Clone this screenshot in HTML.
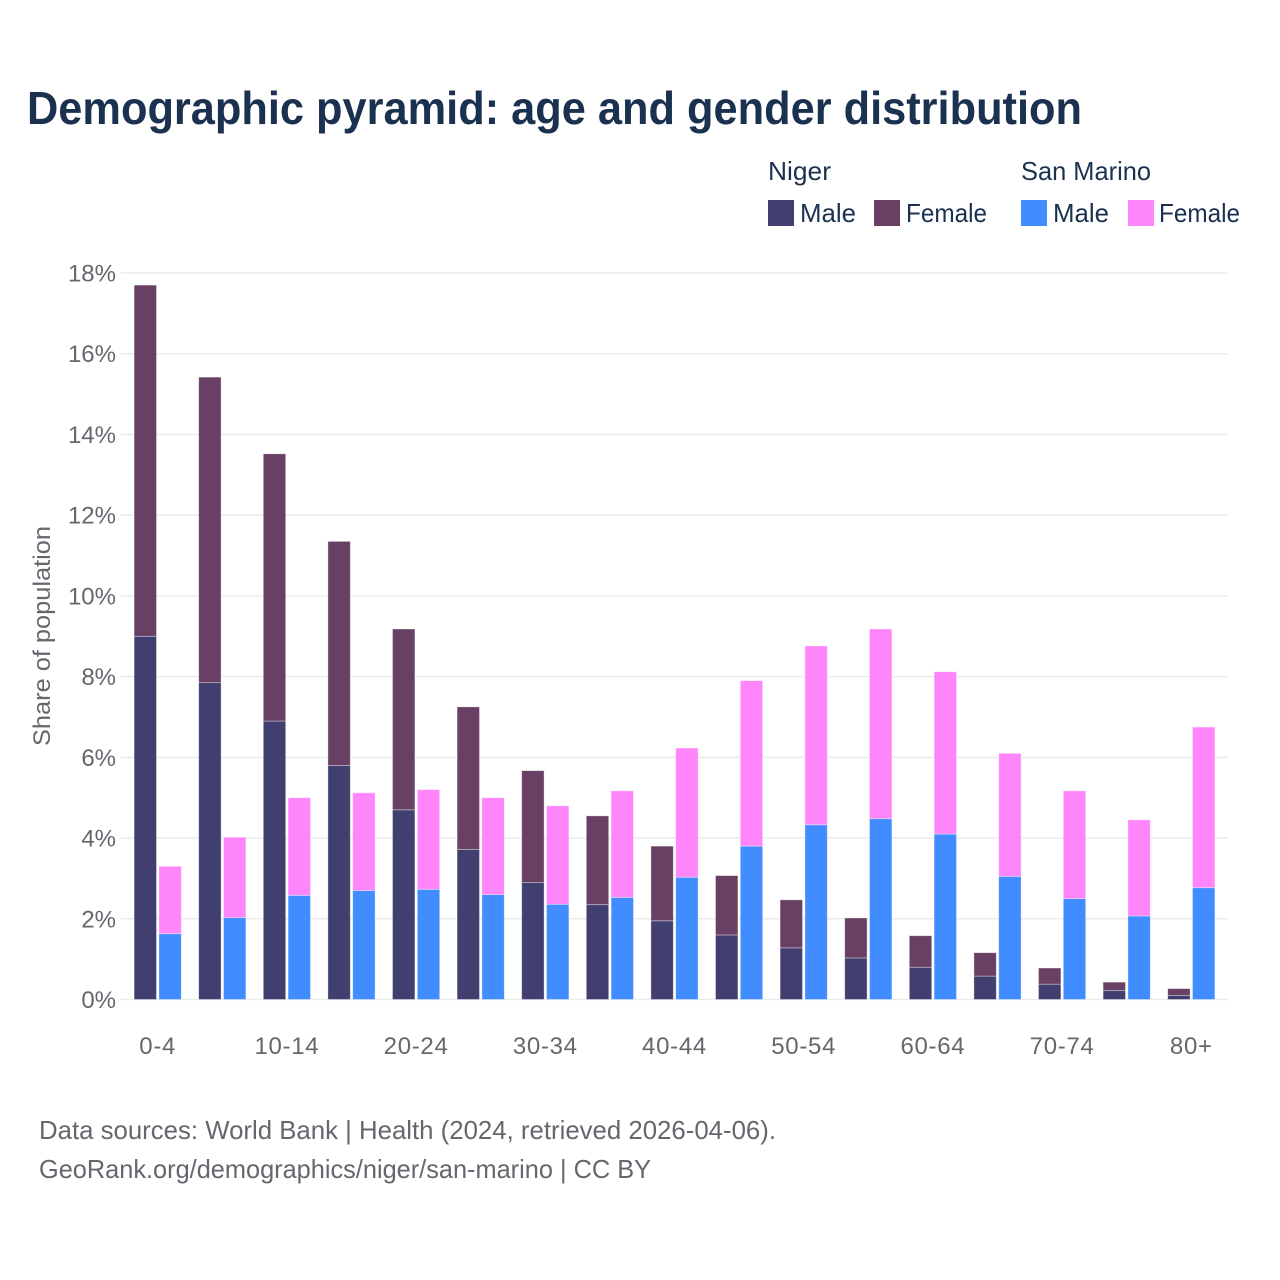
<!DOCTYPE html>
<html lang="en">
<head>
<meta charset="utf-8">
<title>Demographic pyramid: age and gender distribution</title>
<style>
html,body{margin:0;padding:0;background:#fff;}
svg{display:block;font-family:"Liberation Sans",sans-serif;}
</style>
</head>
<body>
<svg id="chart" width="1280" height="1280" viewBox="0 0 1280 1280" xmlns="http://www.w3.org/2000/svg">
  <rect width="1280" height="1280" fill="#ffffff"/>
  <text x="27" y="124" font-size="46" font-weight="700" fill="#1a3150" textLength="1055" lengthAdjust="spacingAndGlyphs">Demographic pyramid: age and gender distribution</text>

  <g font-size="26" fill="#1a3150">
    <text x="768" y="180" textLength="63" lengthAdjust="spacingAndGlyphs">Niger</text>
    <text x="1021" y="180" textLength="130" lengthAdjust="spacingAndGlyphs">San Marino</text>
    <rect x="768" y="200" width="26" height="26" fill="#403f6f"/>
    <text x="800" y="222" textLength="56" lengthAdjust="spacingAndGlyphs">Male</text>
    <rect x="874" y="200" width="26" height="26" fill="#674063"/>
    <text x="906" y="222" textLength="81" lengthAdjust="spacingAndGlyphs">Female</text>
    <rect x="1021" y="200" width="26" height="26" fill="#418cff"/>
    <text x="1053" y="222" textLength="56" lengthAdjust="spacingAndGlyphs">Male</text>
    <rect x="1128" y="200" width="26" height="26" fill="#ff85fb"/>
    <text x="1159" y="222" textLength="81" lengthAdjust="spacingAndGlyphs">Female</text>
  </g>

  <g id="grid"></g>
  <g id="bars"></g>
  <g id="yticks"></g>
  <g id="xticks"></g>

  <text transform="translate(50,636) rotate(-90)" text-anchor="middle" font-size="24" fill="#67666e" textLength="220" lengthAdjust="spacingAndGlyphs">Share of population</text>

  <text x="39" y="1139" font-size="26" fill="#67666e" textLength="737" lengthAdjust="spacingAndGlyphs">Data sources: World Bank | Health (2024, retrieved 2026-04-06).</text>
  <text x="39" y="1178" font-size="26" fill="#67666e" textLength="612" lengthAdjust="spacingAndGlyphs">GeoRank.org/demographics/niger/san-marino | CC BY</text>
</svg>
<script>
const categories = ['0-4','5-9','10-14','15-19','20-24','25-29','30-34','35-39','40-44','45-49','50-54','55-59','60-64','65-69','70-74','75-79','80+'];
const nigerMale = [9.0,7.85,6.9,5.8,4.7,3.72,2.9,2.35,1.95,1.6,1.28,1.03,0.8,0.58,0.38,0.22,0.1];
const nigerFemale = [8.7,7.57,6.62,5.55,4.48,3.53,2.77,2.2,1.85,1.47,1.19,0.99,0.78,0.58,0.4,0.21,0.17];
const sanMarinoMale = [1.63,2.03,2.58,2.7,2.73,2.6,2.36,2.53,3.03,3.8,4.33,4.48,4.1,3.05,2.5,2.07,2.77];
const sanMarinoFemale = [1.67,1.99,2.42,2.42,2.47,2.4,2.44,2.64,3.2,4.1,4.43,4.7,4.02,3.05,2.67,2.38,3.98];
const yTicks = [0,2,4,6,8,10,12,14,16,18];

const NS = 'http://www.w3.org/2000/svg';
const plotLeft = 125.4, plotRight = 1223.6, gridLeft = 121, gridRight = 1228;
const y0 = 999.5, y18 = 273;
const barWidth = 22.4, barGap = 2.4;

function yScale(v) { return y0 - (v / 18) * (y0 - y18); }
function xBand(i) { return plotLeft + (i + 0.5) * (plotRight - plotLeft) / categories.length; }

function make(tag, attrs, parent) {
  const el = document.createElementNS(NS, tag);
  for (const k in attrs) el.setAttribute(k, attrs[k]);
  parent.appendChild(el);
  return el;
}

const gridG = document.getElementById('grid');
const yG = document.getElementById('yticks');
const xG = document.getElementById('xticks');
const barsG = document.getElementById('bars');

yTicks.forEach(function (t) {
  const line = make('line', {x1: gridLeft, x2: gridRight, y1: yScale(t), y2: yScale(t), stroke: '#ebebeb', 'stroke-width': 1.5}, gridG);
  
  
  const label = make('text', {x: 116, y: yScale(t) + 8.5, 'text-anchor': 'end', 'font-size': 24, fill: '#67666e'}, yG);
  label.textContent = t + '%';
  
  
});

categories.forEach(function (c, i) {
  if (i % 2 === 0) {
    const label = make('text', {x: xBand(i), y: 1054, 'text-anchor': 'middle', 'font-size': 24, 'letter-spacing': 0.7, fill: '#67666e'}, xG);
    label.textContent = c;
    
    
  }
});

function drawBar(x, from, to, fill, name) {
  const r = make('rect', {
    x: x, y: yScale(to), width: barWidth, height: yScale(from) - yScale(to),
    fill: fill, stroke: '#ffffff', 'stroke-opacity': 0.45, 'stroke-width': 0.8
  }, barsG);
  
  
}

categories.forEach(function (c, i) {
  const cx = xBand(i);
  const xNiger = cx - barGap / 2 - barWidth;
  const xSan = cx + barGap / 2;
  drawBar(xNiger, 0, nigerMale[i], '#403f6f', 'bar-niger-male-' + c);
  drawBar(xNiger, nigerMale[i], nigerMale[i] + nigerFemale[i], '#674063', 'bar-niger-female-' + c);
  drawBar(xSan, 0, sanMarinoMale[i], '#418cff', 'bar-san-marino-male-' + c);
  drawBar(xSan, sanMarinoMale[i], sanMarinoMale[i] + sanMarinoFemale[i], '#ff85fb', 'bar-san-marino-female-' + c);
});
</script>
</body>
</html>
